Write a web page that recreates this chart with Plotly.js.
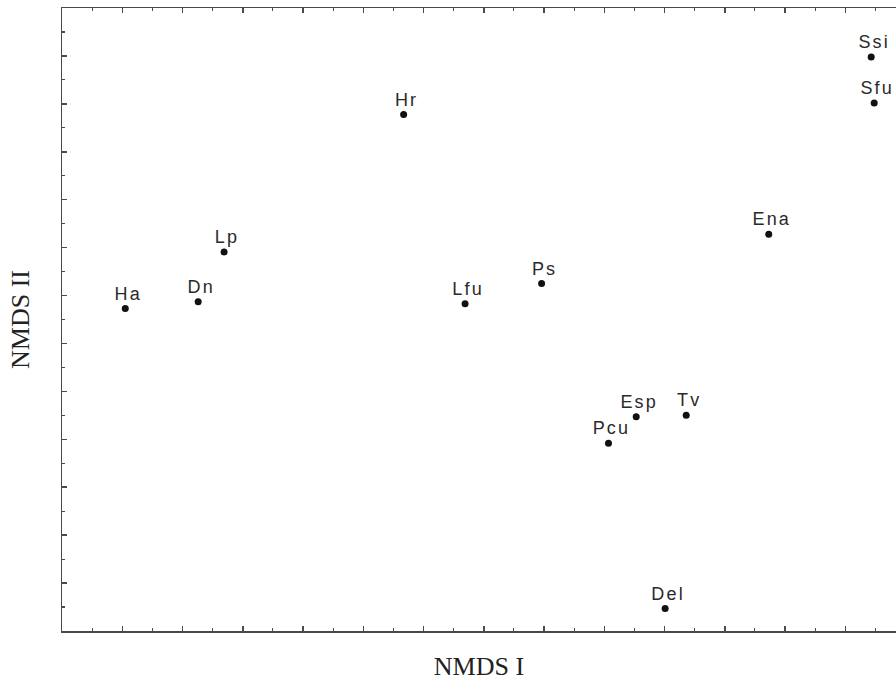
<!DOCTYPE html>
<html>
<head>
<meta charset="utf-8">
<script src="https://cdn.plot.ly/plotly-3.0.1.min.js"></script>
<style>
html,body{margin:0;padding:0;background:#fff;overflow:hidden;}
#chart .textpoint text{letter-spacing:2.2px; transform:translate(3px,1px);}
</style>
</head>
<body>
<div id="chart" style="width:896px;height:681px;"></div>
<script>
const species = ["Ha","Dn","Lp","Hr","Lfu","Ps","Ena","Ssi","Sfu","Esp","Tv","Pcu","Del"];
const nmds1 = [1.05, 2.26, 2.69, 5.67, 6.69, 7.96, 11.73, 13.43, 13.48, 9.53, 10.36, 9.07, 10.01];
const nmds2 = [6.73, 6.87, 7.91, 10.78, 6.83, 7.25, 8.28, 11.98, 11.02, 4.47, 4.50, 3.92, 0.47];

const axisCommon = {
  showgrid:false, zeroline:false, showline:true, linecolor:'#4a4a4a', linewidth:1.5,
  ticks:'inside', ticklen:5, tickwidth:1.5, tickcolor:'#4a4a4a', showticklabels:false,
  dtick:1, tick0:0, fixedrange:true
};

const trace = {
  x:nmds1, y:nmds2, text:species, type:'scatter', mode:'markers+text',
  textposition:'top center', cliponaxis:false,
  marker:{color:'#111', size:7},
  textfont:{family:'Liberation Sans, Arial, sans-serif', size:18, color:'#2a2a2a'},
  hoverinfo:'none'
};

const layout = {
  width:896, height:681,
  margin:{l:62, r:0, t:8, b:50},
  paper_bgcolor:'#fff', plot_bgcolor:'#fff',
  showlegend:false,
  xaxis:Object.assign({}, axisCommon, {
    range:[0, 13.842], mirror:'ticks',
    minor:{dtick:0.5, tick0:0, ticks:'inside', ticklen:3, tickwidth:1.2, tickcolor:'#4a4a4a'},
    title:{text:'NMDS I', font:{family:'Liberation Serif, Times New Roman, serif', size:26, color:'#222'}, standoff:26}
  }),
  yaxis:Object.assign({}, axisCommon, {
    range:[0, 13], mirror:false,
    minor:{dtick:0.5, tick0:0, ticks:'inside', ticklen:3, tickwidth:1.2, tickcolor:'#4a4a4a'},
    title:{text:'NMDS II', font:{family:'Liberation Serif, Times New Roman, serif', size:26, color:'#222'}, standoff:23}
  })
};

Plotly.newPlot('chart', [trace], layout, {displayModeBar:false, staticPlot:true});
</script>
</body>
</html>
